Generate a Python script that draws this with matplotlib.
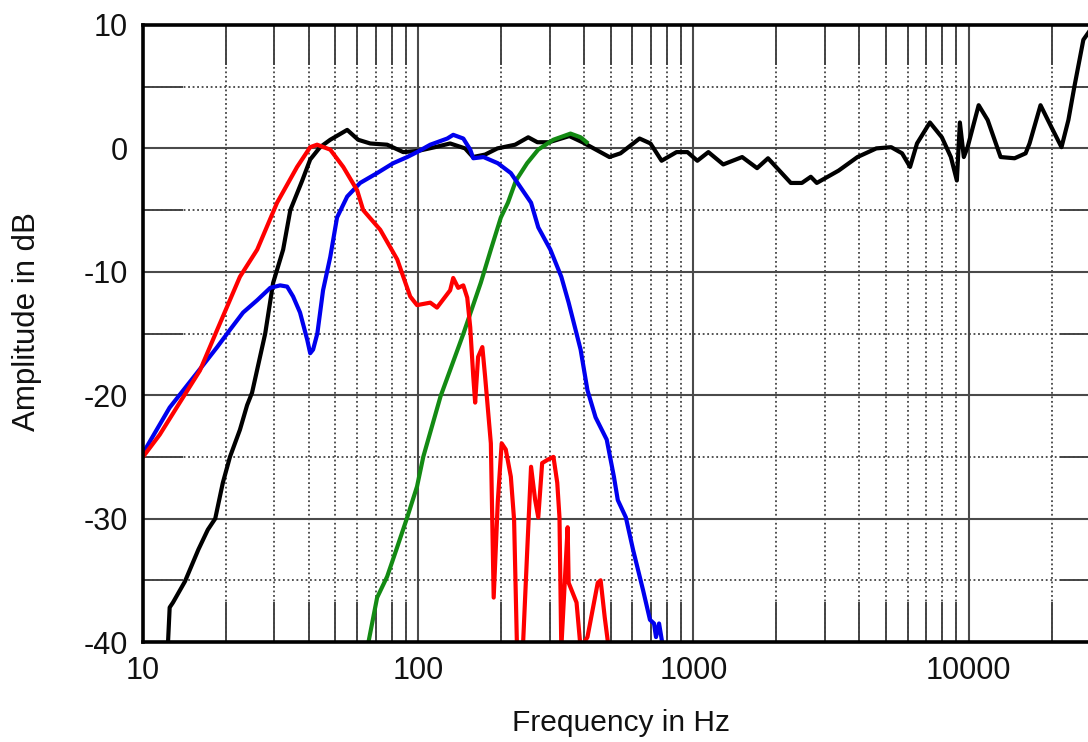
import matplotlib
matplotlib.use("Agg")
import matplotlib.pyplot as plt
from matplotlib.ticker import LogLocator, MultipleLocator, FixedLocator, NullFormatter, FuncFormatter

# ---- data (frequency in Hz, amplitude in dB) ----
black_f = [12.3, 12.5, 12.85, 14.2, 15.9, 17.2, 18.3, 19.5, 20.7, 22.5, 23.9, 24.9, 27.8, 29.7,
           32.3, 34.3, 37.9, 40.5, 44.0, 47.9, 55.2, 60.5, 66.9, 77.1, 88.2, 100, 115, 130.6,
           148, 158, 175, 194, 225, 251, 271, 299, 354, 395, 495, 543, 637, 698, 766, 868,
           951, 1033, 1133, 1283, 1503, 1703, 1866, 2258, 2477, 2669, 2806, 3368, 3944, 4617,
           5228, 5728, 6124, 6490, 7229, 7990, 8616, 9057, 9290, 9600, 9910, 10870, 11720,
           13060, 14680, 16100, 16640, 18240, 20000, 21740, 23030, 24210, 26100, 27660]
black_db = [-40.5, -37.2, -36.8, -35.1, -32.5, -30.9, -30.0, -27.1, -25.0, -22.8, -20.8, -19.8,
            -15.0, -10.9, -8.2, -5.0, -2.6, -0.9, 0.1, 0.7, 1.5, 0.7, 0.4, 0.3, -0.3, -0.2, 0.1,
            0.4, 0.0, -0.7, -0.5, 0.0, 0.3, 0.9, 0.5, 0.5, 1.0, 0.5, -0.7, -0.4, 0.8, 0.4, -1.0,
            -0.3, -0.3, -1.0, -0.3, -1.3, -0.7, -1.6, -0.8, -2.8, -2.8, -2.3, -2.8, -1.8, -0.7,
            0.0, 0.1, -0.4, -1.5, 0.4, 2.1, 0.9, -0.7, -2.6, 2.1, -0.7, 0.1, 3.5, 2.3, -0.7,
            -0.8, -0.4, 0.4, 3.5, 1.7, 0.1, 2.3, 5.0, 8.8, 9.6]

red_f = [10, 11.5, 13.6, 16.1, 18.6, 22.5, 26.0, 30.7, 36.3, 40.5, 42.9, 47.9, 53.4, 60.0, 63.1,
         72.8, 83.9, 93.5, 99, 110.6, 117, 130.6, 134, 139.7, 145.8, 150.7, 154.5, 158.5, 161,
         165, 171, 175, 183.6, 188, 194.6, 201, 208, 217, 223, 228.5, 240, 249, 257, 266, 273,
         282, 297, 310, 320, 326, 331, 349, 352, 376, 389, 412, 449, 460, 476, 492]
red_db = [-25.0, -23.2, -20.6, -18.0, -14.7, -10.4, -8.2, -4.4, -1.5, 0.1, 0.3, -0.1, -1.5, -3.4,
          -5.0, -6.6, -9.0, -12.0, -12.7, -12.5, -12.9, -11.5, -10.5, -11.3, -11.1, -12.1, -14.5,
          -18.5, -20.6, -16.9, -16.1, -18.5, -23.9, -36.4, -28.6, -23.9, -24.4, -26.6, -30.1,
          -40.5, -40.5, -32.5, -25.8, -28.5, -29.9, -25.5, -25.2, -25.0, -27.1, -29.9, -40.5,
          -30.7, -35.2, -36.8, -40.5, -39.6, -35.2, -35.0, -38.0, -40.5]

blue_f = [10, 12.5, 15.7, 18.6, 20.7, 23.1, 26.0, 29.0, 31.5, 33.4, 35.1, 37.2, 39.5, 40.5, 41.5,
          43.0, 45.1, 47.9, 50.7, 55.2, 61.5, 70.9, 81.1, 91.2, 99, 110.6, 127.5, 134, 145.8,
          154.5, 158.5, 172.6, 194.6, 217, 257, 273, 302, 331, 352, 389, 412, 441, 484, 514,
          531, 568, 603, 656, 695, 719, 731, 750, 776]
blue_db = [-24.7, -21.0, -18.2, -16.1, -14.7, -13.3, -12.3, -11.3, -11.1, -11.2, -12.0, -13.3,
           -15.5, -16.6, -16.3, -15.0, -11.5, -8.8, -5.6, -3.9, -2.8, -2.0, -1.2, -0.7, -0.3, 0.3,
           0.8, 1.1, 0.8, -0.1, -0.8, -0.7, -1.2, -2.0, -4.4, -6.4, -8.2, -10.4, -12.5, -16.3,
           -19.6, -21.8, -23.6, -26.6, -28.5, -29.9, -32.5, -35.8, -38.2, -38.5, -39.6, -38.5,
           -40.5]

green_f = [65.3, 70.9, 77.1, 83.9, 91.2, 99, 104.3, 120.5, 146, 168.7, 183.6, 199.6, 211.8,
           226.5, 248.7, 272.8, 309.6, 357.5, 389, 409]
green_db = [-40.5, -36.4, -34.7, -32.3, -29.9, -27.4, -25.0, -20.1, -15.0, -10.9, -8.2, -5.6,
            -4.4, -2.6, -1.2, -0.1, 0.7, 1.2, 0.9, 0.5]

y_labels = [10, 0, -10, -20, -30, -40]
x_labels = [10, 100, 1000, 10000]

# ---- figure ----
plt.rcParams["font.family"] = ["Liberation Sans", "DejaVu Sans"]
plt.rcParams["axes.unicode_minus"] = False

W, H = 1088, 742
fig = plt.figure(figsize=(W / 100, H / 100), dpi=100)
fig.patch.set_facecolor("white")
ax = fig.add_axes([143 / W, 100 / H, 957 / W, 617 / H])

ax.set_xscale("log")
ax.set_xlim(10, 30000)
ax.set_ylim(-40, 10)

lw = 3.0
ax.plot(black_f, black_db, color="black", lw=lw, zorder=3, solid_joinstyle="round")
ax.plot(green_f, green_db, color="#138a13", lw=lw, zorder=4, solid_joinstyle="round")
ax.plot(blue_f, blue_db, color="#0000ee", lw=lw, zorder=5, solid_joinstyle="round")
ax.plot(red_f, red_db, color="#ff0000", lw=lw, zorder=6, solid_joinstyle="round")

# ticks
ax.xaxis.set_major_locator(FixedLocator(x_labels))
ax.xaxis.set_major_formatter(FuncFormatter(lambda v, p: f"{int(round(v))}"))
ax.xaxis.set_minor_locator(LogLocator(base=10, subs=[2, 3, 4, 5, 6, 7, 8, 9], numticks=20))
ax.xaxis.set_minor_formatter(NullFormatter())
ax.yaxis.set_major_locator(FixedLocator(y_labels))
ax.yaxis.set_major_formatter(FuncFormatter(lambda v, p: f"{int(round(v))}"))
ax.yaxis.set_minor_locator(MultipleLocator(5))

ax.tick_params(which="major", length=0, labelsize=22, labelcolor="#111111")
ax.tick_params(axis="x", which="major", pad=10)
ax.tick_params(axis="y", which="major", pad=11)
ax.tick_params(which="minor", direction="in", length=29, width=1.4, color="#444444",
               top=True, bottom=True, left=True, right=True)

# grid
ax.grid(which="major", linestyle="-", color="#4a4a4a", linewidth=1.5, zorder=1)
ax.grid(which="minor", linestyle=(0, (1.0, 1.5)), color="#444444", linewidth=1.3, zorder=1)
ax.set_axisbelow(True)

for s in ["top", "left", "bottom", "right"]:
    ax.spines[s].set_linewidth(2.6)
    ax.spines[s].set_color("black")
    ax.spines[s].set_zorder(7)

ax.set_xlabel("Frequency in Hz", fontsize=21.5, color="#111111")
ax.xaxis.set_label_coords(0.5, -0.108)
ax.set_ylabel("Amplitude in dB", fontsize=22.5, color="#111111")
ax.yaxis.set_label_coords(-0.1055, 0.52)

fig.savefig("out.png", dpi=100)
